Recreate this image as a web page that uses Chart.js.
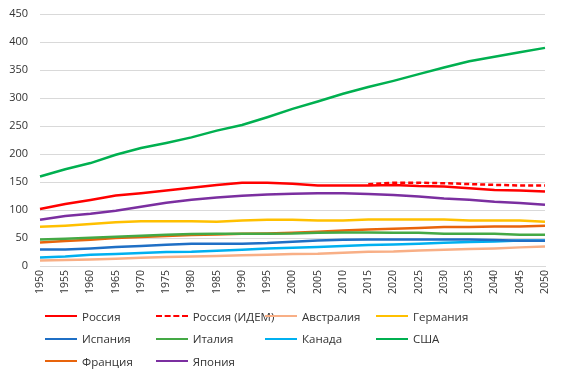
<!DOCTYPE html>
<html>
<head>
<meta charset="utf-8">
<script src="https://cdn.jsdelivr.net/npm/chart.js@4/dist/chart.umd.min.js"></script>
<style>
  html, body { margin: 0; padding: 0; background: #fff; }
  #wrap { position: relative; width: 562px; height: 380px; }
  #legend { position: absolute; left: 45px; top: 305px; font-family: "Open Sans", "Liberation Sans", sans-serif; font-size: 11.5px; color: #333; }
  .item { position: absolute; height: 22px; display: flex; align-items: center; white-space: nowrap; }
  .swatch { width: 32px; height: 0; margin-right: 5px; }
</style>
</head>
<body>
<div id="wrap">
  <canvas id="c" width="562" height="380"></canvas>
  <div id="legend"></div>
</div>
<script>
const years = ['1950','1955','1960','1965','1970','1975','1980','1985','1990','1995','2000','2005','2010','2015','2020','2025','2030','2035','2040','2045','2050'];
const yTicks = [0, 50, 100, 150, 200, 250, 300, 350, 400, 450];

const russia      = [102, 111, 118, 126, 130, 135, 140, 145, 149, 149, 147, 144, 144, 144, 145, 143, 142, 139, 136, 135, 133];
const russiaIdem  = [null, null, null, null, null, null, null, null, null, null, null, null, null, 146, 149, 149, 148, 146.5, 145, 144, 144];
const australia   = [10, 10.6, 11.8, 13, 14.8, 16, 17.2, 17.8, 19, 20.2, 21.4, 22, 23.8, 25.6, 26, 27.9, 29.1, 30.4, 31.5, 33.3, 35];
const germany     = [70, 72, 75, 78, 80, 80, 80, 79, 81.5, 82.7, 82.7, 81.5, 81.5, 83, 83, 83, 83, 81.5, 81.5, 81.5, 79];
const spain       = [29.7, 29.7, 31.5, 34, 35.7, 38, 39.8, 39.8, 39.8, 41, 43.5, 45.8, 47, 47.6, 47.6, 47.6, 47.6, 47.6, 46.4, 45.2, 45];
const italy       = [47.5, 48.8, 50.6, 52.3, 54, 55.9, 57, 57.5, 57.7, 57.7, 58, 59.5, 60, 60, 59.5, 59.5, 57.7, 57.7, 57.7, 56, 56];
const canada      = [15.4, 17.2, 20.2, 21.4, 23.2, 25, 25.6, 27.3, 29.1, 31.5, 32.7, 33.9, 35.7, 37.5, 38.6, 39.8, 41.6, 42.9, 44, 45.5, 45.8];
const usa         = [160, 173, 184, 199, 211, 220, 230, 242, 252, 266, 281, 294, 308, 320, 331, 343, 355, 366, 374, 382, 390];
const france      = [42, 44.6, 47, 50, 51.8, 53.6, 55.4, 56.5, 57.7, 58.3, 59.5, 61.3, 63.6, 65.4, 66.6, 67.8, 69.6, 69.6, 70.8, 70.8, 72];
const japan       = [82.7, 89.3, 93.4, 98.8, 106, 113, 118.5, 122.6, 125.6, 128, 129, 130, 130, 128.6, 127, 124.4, 120.8, 118.4, 114.8, 112.5, 109.5];

const seriesNames = ['Россия', 'Россия (ИДЕМ)', 'Австралия', 'Германия', 'Испания', 'Италия', 'Канада', 'США', 'Франция', 'Япония'];
const seriesData  = [russia, russiaIdem, australia, germany, spain, italy, canada, usa, france, japan];
const seriesColors = ['#FF0000', '#FF0000', '#F8AF86', '#FFC000', '#1F6FC5', '#44A945', '#00B0F0', '#00B050', '#E8640C', '#7B2FA0'];
const seriesDash = [[], [5, 3], [], [], [], [], [], [], [], []];

const datasets = seriesNames.map((name, i) => ({
  label: name,
  data: seriesData[i],
  borderColor: seriesColors[i],
  backgroundColor: seriesColors[i],
  borderWidth: 2.5,
  borderDash: seriesDash[i],
  pointRadius: 0,
  tension: 0,
  spanGaps: false,
  fill: false
}));
datasets.forEach((d, i) => { d.order = i === 0 ? 0 : (i === 1 ? -1 : i); });

new Chart(document.getElementById('c'), {
  type: 'line',
  data: { labels: years, datasets },
  options: {
    responsive: false,
    animation: false,
    layout: { padding: { left: 0, right: 17, top: 14.3, bottom: 0 } },
    plugins: { legend: { display: false }, tooltip: { enabled: false } },
    scales: {
      x: {
        offset: false,
        grid: { display: false, drawTicks: false },
        border: { display: true, color: '#d9d9d9', width: 1 },
        ticks: {
          autoSkip: false, maxRotation: 90, minRotation: 90, padding: 4,
          color: '#333',
          font: { family: '"Open Sans", "Liberation Sans", sans-serif', size: 10.5 }
        },
        afterFit: (s) => { s.height = 114; s.paddingTop = 0; s.paddingBottom = 0; }
      },
      y: {
        min: 0, max: 450,
        afterBuildTicks: (s) => { s.ticks = yTicks.map(v => ({ value: v })); },
        grid: { color: '#d9d9d9', lineWidth: 1, drawTicks: false },
        border: { display: false },
        ticks: {
          padding: 12,
          color: '#333',
          font: { family: '"Open Sans", "Liberation Sans", sans-serif', size: 11 }
        },
        afterFit: (s) => { s.width = 40; s.paddingTop = 0; s.paddingBottom = 0; }
      }
    }
  }
});

const legend = document.getElementById('legend');
const colX = [0, 110.7, 220, 331];
const rowY = [0, 22.6, 45.2];
seriesNames.forEach((name, i) => {
  const el = document.createElement('div');
  el.className = 'item';
  el.style.left = colX[i % 4] + 'px';
  el.style.top = rowY[Math.floor(i / 4)] + 'px';
  const sw = document.createElement('span');
  sw.className = 'swatch';
  sw.style.borderTop = '2.5px ' + (seriesDash[i].length ? 'dashed' : 'solid') + ' ' + seriesColors[i];
  const tx = document.createElement('span');
  tx.textContent = name;
  el.appendChild(sw); el.appendChild(tx);
  legend.appendChild(el);
});
</script>
</body>
</html>
